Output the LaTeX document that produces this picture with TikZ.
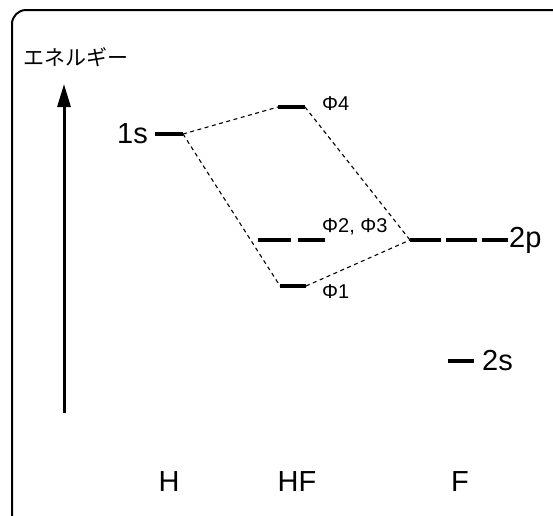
\documentclass[tikz,border=0pt]{standalone}
\usepackage{fontspec}
\setmainfont{Liberation Sans}
\newfontfamily\jpfont{Noto Sans CJK JP}
\usetikzlibrary{arrows.meta}

\tikzset{
    level/.style = {line width = 3.6pt},
    corr/.style = {line width = 1.1pt, dash pattern = on 4pt off 3.5pt},
    lbl/.style = {font = \fontsize{29}{29}\selectfont, inner sep = 0pt},
    orb/.style = {font = \fontsize{20}{20}\selectfont, inner sep = 0pt, anchor = west}
}

\begin{document}
\begin{tikzpicture}[x = 1pt, y = -1pt]
        \useasboundingbox (0, 0) rectangle (553, 515);
        \begin{scope}
        \clip (0, 0) rectangle (553, 515);
        \draw [line width = 2pt, rounded corners = 14pt] (12, 10) rectangle (600, 570);
        \end{scope}

        % energy axis
        \node [anchor = west, inner sep = 0pt, font = \jpfont\fontsize{21}{21}\selectfont] (energy) at (23, 57) {エネルギー};
        \coordinate (axbot) at (64, 413);
        \coordinate (axtop) at (64, 84);
        \draw [line width = 3pt, -{Triangle[length = 23pt, width = 13pt]}] (axbot) -- (axtop);

        % level end points
        \coordinate (h1sL) at (155, 134);
        \coordinate (h1sR) at (183, 134);
        \coordinate (phi4L) at (278, 107);
        \coordinate (phi4R) at (305, 107);
        \coordinate (phi1L) at (280, 286);
        \coordinate (phi1R) at (306, 286);
        \coordinate (phi23L) at (258, 240);
        \coordinate (phi23R) at (325, 240);
        \coordinate (f2pL) at (410, 240);
        \coordinate (f2pR) at (508, 240);
        \coordinate (f2sL) at (448, 361);
        \coordinate (f2sR) at (474, 361);

        \draw [level] (h1sL) -- (h1sR);
        \draw [level] (phi4L) -- (phi4R);
        \draw [level] (phi1L) -- (phi1R);
        \draw [level, dash pattern = on 33pt off 7pt] (phi23L) -- (phi23R);
        \draw [level, dash pattern = on 31pt off 5pt] (f2pL) -- (f2pR);
        \draw [level] (f2sL) -- (f2sR);

        % correlation lines
        \draw [corr] (h1sR) -- (phi4L);
        \draw [corr] (h1sR) -- (phi1L);
        \draw [corr] (phi4R) -- (f2pL);
        \draw [corr] (phi1R) -- (f2pL);

        % labels
        \node [lbl, anchor = east] (l1s) at (148, 134) {1s};
        \node [lbl, anchor = west] (l2p) at (509, 240) {2p};
        \node [lbl, anchor = west] (l2s) at (482, 361) {2s};
        \node [orb] (lphi4) at (322, 104) {Φ4};
        \node [orb] (lphi23) at (322, 227) {Φ2, Φ3};
        \node [orb] (lphi1) at (322, 292) {Φ1};

        \node [lbl] (atomH) at (169, 482) {H};
        \node [lbl] (molHF) at (297, 482) {HF};
        \node [lbl] (atomF) at (460, 482) {F};
    \end{tikzpicture}
\end{document}
